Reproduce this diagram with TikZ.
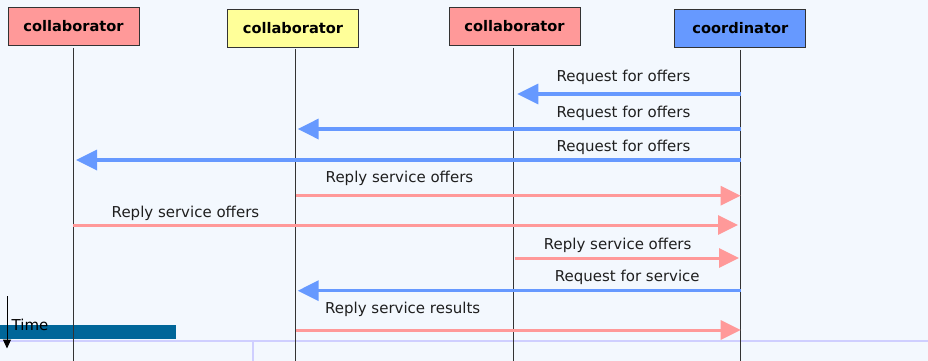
\documentclass[tikz,border=0pt]{standalone}
\usepackage{fontspec}
\setmainfont{DejaVu Sans}
\usetikzlibrary{arrows.meta}
\definecolor{bg}{HTML}{F3F8FE}
\definecolor{pinkc}{HTML}{FF9999}
\definecolor{yelc}{HTML}{FFFF99}
\definecolor{bluec}{HTML}{6699FF}
\definecolor{barc}{HTML}{006699}
\definecolor{lavc}{HTML}{CFCFFF}
\begin{document}
\begin{tikzpicture}[x=1pt,y=-1pt,
  actor/.style={draw=black!80, line width=0.9pt, minimum width=131pt, minimum height=38pt,
    font=\fontsize{14.6}{17}\selectfont\bfseries, inner sep=0pt},
  life/.style={draw=black!80, line width=0.9pt},
  req/.style={draw=bluec, line width=3.5pt, -{Triangle[length=21pt,width=20pt]}},
  rep/.style={draw=pinkc, line width=3pt, -{Triangle[length=20pt,width=19pt]}},
  lbl/.style={font=\fontsize{15}{17}\selectfont, text=black!88, inner sep=0pt}]
\fill[bg] (0,0) rectangle (928,361);
\useasboundingbox (0,0) rectangle (928,361);
% bottom decoration
\draw[lavc, line width=2pt] (0,340.7) -- (928,340.7);
\draw[lavc, line width=2pt] (252.7,341.5) -- (252.7,361);
\fill[barc] (0,325) rectangle (176,339);
\node[lbl, text=black, anchor=west] (time) at (11.5,325) {Time};
\coordinate (ts) at (7,296);
\coordinate (te) at (7,348.5);
\draw[line width=1pt, -{Triangle[length=9pt,width=8pt]}] (ts) -- (te);
% actors
\node[actor, fill=pinkc] (c1) at (73.5,26.3) {collaborator};
\node[actor, fill=yelc] (c2) at (293,28.3) {collaborator};
\node[actor, fill=pinkc] (c3) at (514.5,26.3) {collaborator};
\node[actor, fill=bluec] (co) at (740.3,28.3) {coordinator};
% lifelines
\coordinate (t1) at (73,48); \coordinate (b1) at (73,361);
\coordinate (t2) at (295.7,49); \coordinate (b2) at (295.7,361);
\coordinate (t3) at (513.3,48); \coordinate (b3) at (513.3,361);
\coordinate (t4) at (740.7,50); \coordinate (b4) at (740.7,361);
\draw[life] (t1) -- (b1);
\draw[life] (t2) -- (b2);
\draw[life] (t3) -- (b3);
\draw[life] (t4) -- (b4);
% messages
\coordinate (m1s) at (740.7,94); \coordinate (m1e) at (517.3,94);
\coordinate (m2s) at (740.7,129); \coordinate (m2e) at (297.7,129);
\coordinate (m3s) at (740.7,160); \coordinate (m3e) at (76,160);
\coordinate (m4s) at (295.7,195.7); \coordinate (m4e) at (740.7,195.7);
\coordinate (m5s) at (73,225); \coordinate (m5e) at (738,225);
\coordinate (m6s) at (514.7,258); \coordinate (m6e) at (739,258);
\coordinate (m7s) at (740.7,290.7); \coordinate (m7e) at (297.7,290.7);
\coordinate (m8s) at (295.7,330); \coordinate (m8e) at (740.7,330);
\draw[req] (m1s) -- (m1e);
\draw[req] (m2s) -- (m2e);
\draw[req] (m3s) -- (m3e);
\draw[rep] (m4s) -- (m4e);
\draw[rep] (m5s) -- (m5e);
\draw[rep] (m6s) -- (m6e);
\draw[req] (m7s) -- (m7e);
\draw[rep] (m8s) -- (m8e);
\node[lbl] (l1) at (623.5,77.5) {Request for offers};
\node[lbl] (l2) at (623.5,113) {Request for offers};
\node[lbl] (l3) at (623.5,147) {Request for offers};
\node[lbl] (l4) at (399.5,178.5) {Reply service offers};
\node[lbl] (l5) at (185.5,213) {Reply service offers};
\node[lbl] (l6) at (617.7,245.5) {Reply service offers};
\node[lbl] (l7) at (627.3,277) {Request for service};
\node[lbl] (l8) at (402.7,309.8) {Reply service results};
\end{tikzpicture}
\end{document}
